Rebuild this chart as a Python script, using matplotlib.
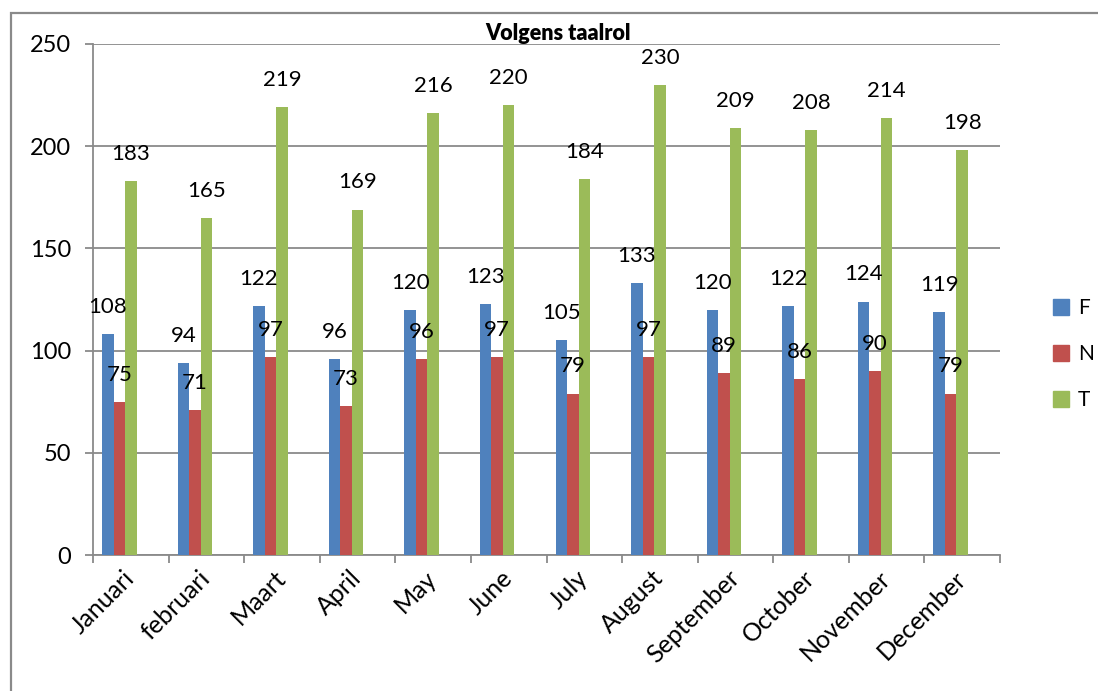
import matplotlib.pyplot as plt
import matplotlib.patches as mpatches
import numpy as np

months = ['Januari', 'februari', 'Maart', 'April', 'May', 'June', 'July',
          'August', 'September', 'October', 'November', 'December']
f_vals = [108, 94, 122, 96, 120, 123, 105, 133, 120, 122, 124, 119]
n_vals = [75, 71, 97, 73, 96, 97, 79, 97, 89, 86, 90, 79]
t_vals = [183, 165, 219, 169, 216, 220, 184, 230, 209, 208, 214, 198]

series = [('F', f_vals, '#4F81BD'), ('N', n_vals, '#C0504D'), ('T', t_vals, '#9BBB59')]

plt.rcParams['font.family'] = ['Lato', 'DejaVu Sans']

W, H = 1098, 691
fig = plt.figure(figsize=(W / 100, H / 100), dpi=100)
ax = fig.add_axes([93 / W, 1 - 555 / H, (1000 - 93) / W, (555 - 44) / H])

# outer chart border (cropped on the right and bottom)
fig.patches.append(mpatches.Rectangle((11 / W, -0.1), 1.2, 1 - 13 / H + 0.1,
                                      transform=fig.transFigure, fill=False,
                                      edgecolor='#8a8a8a', linewidth=1.6))

x = np.arange(len(months))
w = 0.152
offsets = [-2 * w, -w, 0]
for (name, vals, col), off in zip(series, offsets):
    bars = ax.bar(x + off, vals, width=w, color=col, label=name, zorder=3)
    for b, v in zip(bars, vals):
        ax.annotate(str(v), (b.get_x() + b.get_width() / 2, v), xytext=(0, 19.5),
                    textcoords='offset points', ha='center', va='center',
                    fontsize=16, zorder=4)

ax.set_xlim(-0.5, 11.5)
ax.set_ylim(0, 250)
ax.set_yticks(range(0, 251, 50))
ax.grid(axis='y', color='#8a8a8a', linewidth=1.3, zorder=0)
for s in ['top', 'right']:
    ax.spines[s].set_visible(False)
for s in ['left', 'bottom']:
    ax.spines[s].set_color('#8a8a8a')
    ax.spines[s].set_linewidth(1.3)

ax.set_xticks(np.arange(-0.5, 12, 1), minor=False)
ax.set_xticklabels([])
ax.set_xticks(x, minor=True)
ax.set_xticklabels(months, minor=True, rotation=45, ha='right', va='center',
                   rotation_mode='anchor', fontsize=18)
ax.tick_params(axis='x', which='minor', length=0, pad=14)
ax.tick_params(axis='x', which='major', length=6, width=1.3, color='#8a8a8a')
ax.tick_params(axis='y', length=6, width=1.3, color='#8a8a8a', labelsize=17, pad=10)

fig.text(558 / W, 1 - 33 / H, 'Volgens taalrol', ha='center', va='center',
         fontsize=15.5, fontweight='heavy')

handles = [mpatches.Patch(color=c, label=n) for n, _, c in series]
fig.legend(handles=handles, loc='center left', bbox_to_anchor=(1034 / W, 1 - 354 / H),
           frameon=False, fontsize=15, handlelength=0.8, handleheight=0.8,
           handletextpad=0.4, labelspacing=1.25)

fig.savefig('out.png', dpi=100)
